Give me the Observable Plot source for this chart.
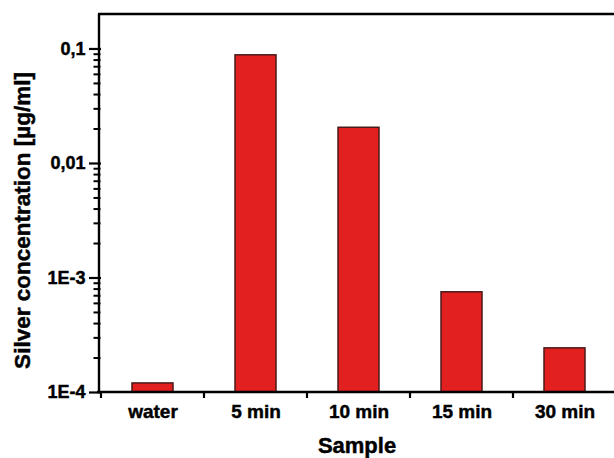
<!DOCTYPE html>
<html><head><meta charset="utf-8">
<script src="https://cdn.jsdelivr.net/npm/d3@7"></script>
<script src="https://cdn.jsdelivr.net/npm/@observablehq/plot@0.6"></script>
<style>body{margin:0;background:#fff} svg text{stroke:#000;stroke-width:0.45px}</style>
</head><body><div id="chart"></div>
<script>
const samples = ["water", "5 min", "10 min", "15 min", "30 min"];
const concentrations = [1.2e-4, 0.088, 0.0205, 7.5e-4, 2.43e-4];
const yTickValues = [1e-4, 1e-3, 1e-2, 1e-1];
const yTickLabels = ["1E-4", "1E-3", "0,01", "0,1"];
const yDomain = [1e-4, 0.2];
const xTitle = "Sample";
const yTitle = "Silver concentration [µg/ml]";

const data = samples.map((s, i) => ({sample: s, value: concentrations[i]}));
const minorTicks = d3.scaleLog().domain([yTickValues[0], yTickValues[yTickValues.length - 1]]).ticks()
  .filter(t => !yTickValues.some(v => Math.abs(v - t) / v < 1e-6));

const padInner = 0.6;

function spines(index, scales, values, dims) {
  const {width, height, marginLeft, marginTop, marginBottom} = dims;
  const x = scales.x;
  const step = x(samples[1]) - x(samples[0]);
  const bw = typeof x.bandwidth === "function" ? x.bandwidth() : (x.bandwidth ?? step * (1 - padInner));
  const yb = height - marginBottom;
  const g = d3.create("svg:g").attr("stroke", "#000").attr("fill", "none");
  const bounds = samples.map(s => x(s) + bw / 2 - step / 2);
  bounds.push(x(samples[samples.length - 1]) + bw / 2 + step / 2);
  for (const b of bounds) {
    g.append("line").attr("x1", b).attr("x2", b).attr("y1", yb).attr("y2", yb + 6).attr("stroke-width", 2.2);
  }
  g.append("line").attr("x1", marginLeft).attr("x2", marginLeft).attr("y1", marginTop).attr("y2", yb).attr("stroke-width", 2.4);
  g.append("line").attr("x1", marginLeft - 1).attr("x2", width).attr("y1", marginTop).attr("y2", marginTop).attr("stroke-width", 2.4);
  g.append("line").attr("x1", marginLeft - 2).attr("x2", width).attr("y1", yb).attr("y2", yb).attr("stroke-width", 2.6);
  return g.node();
}

const chart = Plot.plot({
  width: 614,
  height: 458,
  marginLeft: 99,
  marginTop: 14,
  marginBottom: 66,
  marginRight: 0,
  style: {fontFamily: "'Liberation Sans', Arial, sans-serif", fontWeight: "bold", fontSize: "18px", background: "#fff", color: "#000"},
  x: {type: "band", domain: samples, range: [99.5, 617.5], paddingInner: padInner, paddingOuter: padInner / 2, align: 0.5},
  y: {type: "log", domain: yDomain},
  marks: [
    Plot.barY(data, {x: "sample", y1: yDomain[0], y2: "value", fill: "#e22020", stroke: "#4a1a1a", strokeWidth: 1.5}),
    Plot.axisY({ticks: minorTicks, tickSize: 7, dx: 1.5, tickFormat: () => "", label: null, strokeWidth: 2}),
    Plot.axisY({ticks: yTickValues, tickFormat: d => yTickLabels[yTickValues.findIndex(v => Math.abs(v - d) / v < 1e-6)], tickSize: 12, dx: 2, tickPadding: 4, label: null, strokeWidth: 2.2, fontSize: 18}),
    Plot.axisX({tickSize: 0, tickPadding: 12, label: null, fontSize: 19}),
    spines,
    Plot.text([xTitle], {frameAnchor: "bottom", dy: 53, fontSize: 22, lineAnchor: "middle", textAnchor: "middle"}),
    Plot.text([yTitle], {frameAnchor: "left", dx: -77, dy: 17, rotate: -90, fontSize: 22.5, lineAnchor: "middle", textAnchor: "middle"})
  ]
});
document.getElementById("chart").append(chart);
</script>
</body></html>
